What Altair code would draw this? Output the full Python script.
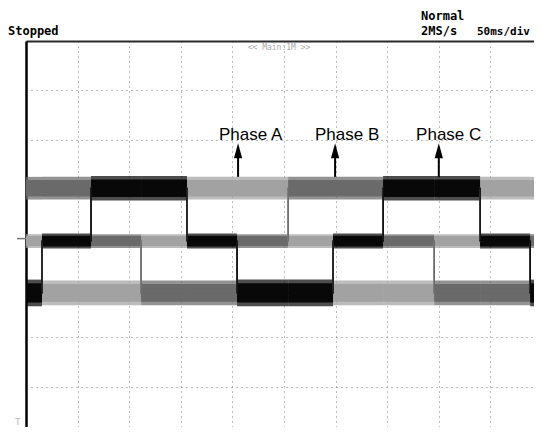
import altair as alt
import pandas as pd

# time breakpoints (divisions, 50 ms/div) where the phase states change
breaks = [0.0, 0.31, 1.26, 2.23, 3.12, 4.09, 5.08, 5.95, 6.92, 7.91, 8.80, 9.77, 10.0]
phases = ["Phase A", "Phase B", "Phase C"]
phase_a = ["M", "L", "L", "M", "H", "H", "M", "L", "L", "M", "H", "H"]
phase_b = ["H", "H", "M", "L", "L", "M", "H", "H", "M", "L", "L", "M"]
phase_c = ["L", "M", "H", "H", "M", "L", "L", "M", "H", "H", "M", "L"]
level_names = ["H", "M", "L"]
level_center = [1.02, -0.05, -1.10]       # divisions
level_halfwidth = [0.23, 0.14, 0.25]      # noise envelope, divisions
phase_thickness = [1.0, 1.0, 1.08]
phase_colors = ["#a2a2a2", "#6a6a6a", "#080808"]

# annotation positions
arrow_x = [4.11, 5.99, 8.00]
label_x = [3.74, 5.60, 7.56]
label_y = [2.0, 2.0, 2.0]

center = dict(zip(level_names, level_center))
halfw = dict(zip(level_names, level_halfwidth))

seg_rows, step_rows = [], []
for p, levels, k in zip(phases, [phase_a, phase_b, phase_c], phase_thickness):
    for i, lv in enumerate(levels):
        c = center[lv]
        hw = halfw[lv] * k
        seg_rows.append(dict(phase=p, t0=breaks[i], t1=breaks[i + 1],
                             lo=c - hw, hi=c + hw,
                             ilo=c - 0.72 * hw, ihi=c + 0.72 * hw))
        step_rows.append(dict(phase=p, t=breaks[i], v=c, o=i))
    step_rows.append(dict(phase=p, t=breaks[-1], v=center[levels[-1]], o=len(levels)))
seg = pd.DataFrame(seg_rows)
steps = pd.DataFrame(step_rows)

ann = pd.DataFrame(dict(phase=phases, ax=arrow_x, lx=label_x, ly=label_y,
                        s0=[1.25] * 3, s1=[1.70] * 3, hy=[1.78] * 3))

# division size in the picture: 51.6 px x 49.4 px; plot area 508 x 386 px
PW, PH = 508, 386
xs = alt.Scale(domain=[0, PW / 51.6], nice=False, zero=False)
ys = alt.Scale(domain=[4 - PH / 49.4, 4], nice=False, zero=False)
cs = alt.Scale(domain=phases, range=phase_colors)

grid_common = dict(grid=True, gridDash=[1, 4], gridColor="#7a7a7a", gridWidth=1,
                   labels=False, ticks=False, title=None)
xaxis = alt.Axis(orient="top", values=list(range(1, 10)), domain=True,
                 domainColor="#2a2a2a", domainWidth=2, **grid_common)
yaxis = alt.Axis(orient="left", values=list(range(-3, 4)), domain=True,
                 domainColor="#000000", domainWidth=2.5, **grid_common)

outer = alt.Chart(seg).mark_rect(opacity=0.72, clip=True).encode(
    x=alt.X("t0:Q", scale=xs, axis=xaxis), x2="t1:Q",
    y=alt.Y("lo:Q", scale=ys, axis=yaxis), y2="hi:Q",
    color=alt.Color("phase:N", scale=cs, legend=None))
inner = alt.Chart(seg).mark_rect(clip=True).encode(
    x="t0:Q", x2="t1:Q", y="ilo:Q", y2="ihi:Q",
    color=alt.Color("phase:N", scale=cs, legend=None))
lines = alt.Chart(steps).mark_line(interpolate="step-after", strokeWidth=1.6, clip=True).encode(
    x="t:Q", y="v:Q", color=alt.Color("phase:N", scale=cs, legend=None),
    detail="phase:N", order="o:Q")

shaft = alt.Chart(ann).mark_rule(color="black", strokeWidth=2).encode(
    x="ax:Q", y="s0:Q", y2="s1:Q")
head = alt.Chart(ann).mark_point(shape="M0,-1L0.55,1L-0.55,1Z", size=225,
                                 filled=True, color="black", opacity=1).encode(
    x="ax:Q", y="hy:Q")
labels = alt.Chart(ann).mark_text(align="left", baseline="alphabetic",
                                  font="Liberation Sans", fontSize=17, color="black").encode(
    x="lx:Q", y="ly:Q", text="phase:N")

mono = dict(font="DejaVu Sans Mono", fontSize=12, fontWeight="bold", color="black",
            align="left", baseline="alphabetic")
t_stop = alt.Chart().mark_text(**mono, text="Stopped").encode(x=alt.value(-18), y=alt.value(-6))
t_norm = alt.Chart().mark_text(**mono, text="Normal").encode(x=alt.value(395), y=alt.value(-21))
t_rate = alt.Chart().mark_text(**mono, text="2MS/s").encode(x=alt.value(395), y=alt.value(-6))
t_div = alt.Chart().mark_text(font="DejaVu Sans Mono", fontSize=11, fontWeight="bold",
                              color="black", align="left", baseline="alphabetic",
                              text="50ms/div").encode(x=alt.value(451), y=alt.value(-6))
t_main = alt.Chart().mark_text(font="DejaVu Sans Mono", fontSize=8, color="#aaaaaa",
                               align="center", baseline="middle",
                               text="<< Main:1M >>").encode(x=alt.value(253), y=alt.value(7))
t_trig = alt.Chart().mark_text(font="DejaVu Sans", fontSize=9, color="#bbbbbb",
                               align="left", baseline="alphabetic",
                               text="T").encode(x=alt.value(-11), y=alt.value(384))
gnd = alt.Chart().mark_rule(color="#777777", strokeWidth=1.5).encode(
    x=alt.value(-9), x2=alt.value(0), y=alt.datum(0))

chart = alt.layer(outer, inner, lines, shaft, head, labels,
                  t_stop, t_norm, t_rate, t_div, t_main, t_trig, gnd).properties(
    width=PW, height=PH,
    autosize=alt.AutoSizeParams(type="none"),
    padding={"left": 18, "top": 33, "right": 0, "bottom": 0},
    background="white",
).configure_view(stroke="#bbbbbb", strokeWidth=1)

chart.save("out.html", embed_options={"renderer": "svg", "actions": False})
